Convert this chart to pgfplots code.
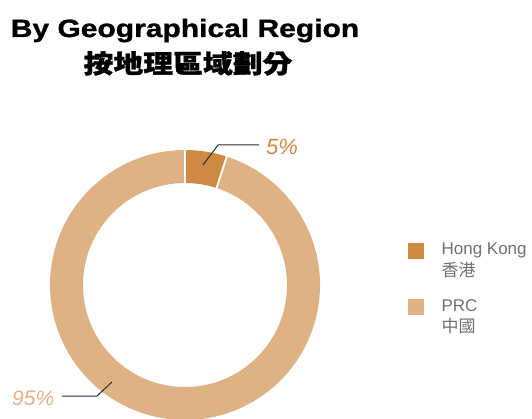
\documentclass[border=0pt]{standalone}
\usepackage{pgfplots}
\pgfplotsset{compat=1.18}
\usepackage{pgfplotstable}
\usetikzlibrary{calc}
\usepackage{fontspec}
\setmainfont{Liberation Sans}
\newfontfamily\titlefont{Liberation Sans}[FakeStretch=1.2, BoldFeatures={FakeBold=1.2}]
\newfontfamily\cjktitle{Noto Sans CJK TC}[FakeStretch=1.17, BoldFeatures={FakeBold=1.2}]
\newfontfamily\cjk{Noto Sans CJK TC}

\definecolor{hkcol}{HTML}{CE8A45}
\definecolor{prccol}{HTML}{DFB285}
\definecolor{legtext}{HTML}{707070}
\definecolor{leader}{HTML}{2B2B2B}

% share of revenue by region (%)
\pgfplotstableread{
region share
HongKong 5
PRC 95
}\regiontable

\pgfplotstablegetelem{0}{share}\of\regiontable
\let\hkshare=\pgfplotsretval
\pgfmathsetmacro\angA{90-3.6*\hkshare}
\pgfmathsetmacro\angB{\angA-360+3.6*\hkshare}

\begin{document}
\begin{tikzpicture}
\begin{axis}[
    width=532pt, height=418pt,
    scale only axis,
    hide axis,
    xmin=0, xmax=532,
    ymin=0, ymax=418,
    legend style={
        draw=none, fill=none,
        at={(axis cs:405,177)}, anchor=north west,
        font=\fontsize{17}{21}\selectfont\color{legtext},
        nodes={align=left, inner sep=0pt},
        row sep=22pt,
        column sep=18pt,
    },
    legend cell align=left,
]
\coordinate (c) at (axis cs:185,133);

% donut slices, angles from the data table
\fill[hkcol] ($(c)+(90:135pt)$) arc[start angle=90, end angle=\angA, radius=135pt]
    -- ($(c)+(\angA:102pt)$) arc[start angle=\angA, end angle=90, radius=102pt] -- cycle;
\fill[prccol] ($(c)+(\angA:135pt)$) arc[start angle=\angA, end angle=\angB, radius=135pt]
    -- ($(c)+(\angB:102pt)$) arc[start angle=\angB, end angle=\angA, radius=102pt] -- cycle;
\draw[white, line width=1.8pt] ($(c)+(90:100pt)$) -- ($(c)+(90:138pt)$);
\draw[white, line width=1.8pt] ($(c)+(\angA:100pt)$) -- ($(c)+(\angA:138pt)$);

% leader lines
\addplot[leader, line width=1pt, no marks, forget plot] coordinates {(203,253) (218,273) (259,273)};
\addplot[leader, line width=1pt, no marks, forget plot] coordinates {(112,36) (97,22) (62,22)};

\node[anchor=base west, inner sep=0pt, text=hkcol, font=\fontsize{22}{22}\selectfont\itshape] at (axis cs:266,263) {5\%};
\node[anchor=base west, inner sep=0pt, text=prccol, font=\fontsize{21}{21}\selectfont\itshape] at (axis cs:12,13) {95\%};

% titles
\node[anchor=base, inner sep=0pt, font=\titlefont\bfseries\fontsize{25}{25}\selectfont] at (axis cs:185,381) {By Geographical Region};
\node[anchor=base, inner sep=0pt, font=\cjktitle\bfseries\fontsize{25.5}{25.5}\selectfont] at (axis cs:188,345) {按地理區域劃分};

% legend
\addlegendimage{legend image code/.code={\fill[hkcol] (0pt,2pt) rectangle (15pt,17pt);}}
\addlegendentry{Hong Kong\\{\cjk 香港}}
\addlegendimage{legend image code/.code={\fill[prccol] (0pt,2pt) rectangle (15pt,17pt);}}
\addlegendentry{PRC\\{\cjk 中國}}
\end{axis}
\pgfresetboundingbox
\path[use as bounding box] (current axis.south west) rectangle (current axis.north east);
\end{tikzpicture}
\end{document}
